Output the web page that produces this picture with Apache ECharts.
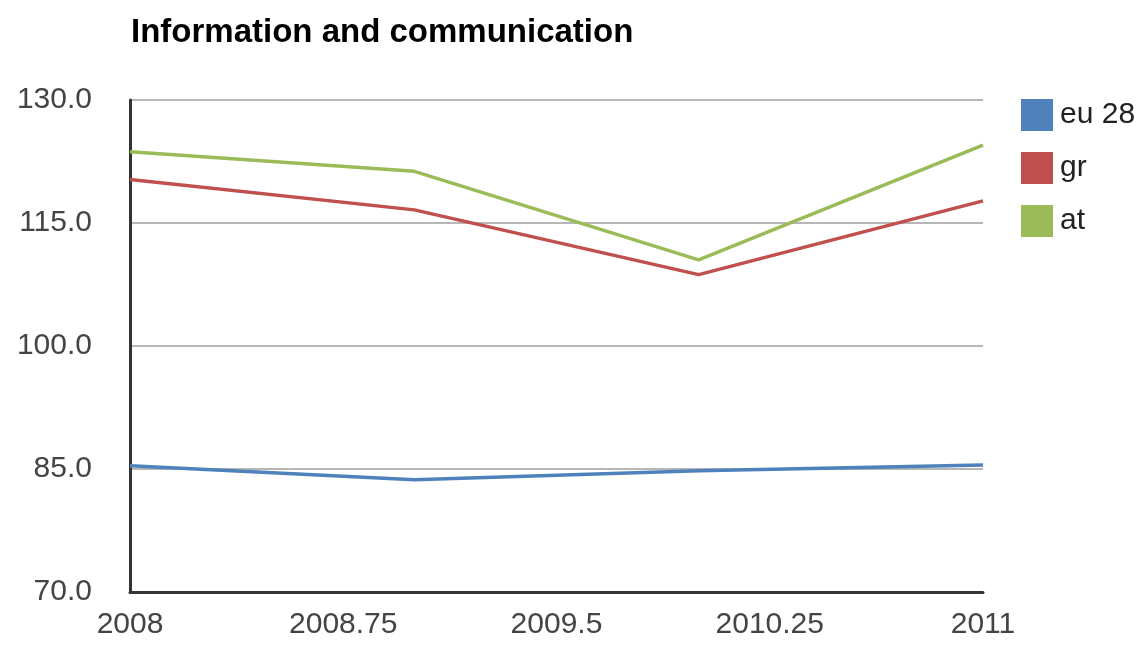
<!DOCTYPE html>
<html>
<head>
<meta charset="utf-8">
<script src="https://cdn.jsdelivr.net/npm/echarts@6/dist/echarts.min.js"></script>
<style>html,body{margin:0;padding:0;background:#fff;}#c{width:1145px;height:647px;}</style>
</head>
<body>
<div id="c"></div>
<script>
const titleText = 'Information and communication';
const years = [2008, 2009, 2010, 2011];
const baseYear = 2008;
const xTickLabels = ['2008', '2008.75', '2009.5', '2010.25', '2011'];
const yTickLabels = ['70.0', '85.0', '100.0', '115.0', '130.0'];
const seriesNames = ['eu 28', 'gr', 'at'];
const eu28 = [85.4, 83.7, 84.8, 85.5];
const gr = [120.3, 116.6, 108.7, 117.7];
const at = [123.7, 121.3, 110.5, 124.5];
const colors = ['#4F81BD', '#C0504D', '#9BBB59'];

const seriesValues = [eu28, gr, at];
const chart = echarts.init(document.getElementById('c'), null, {renderer: 'canvas'});
const font = 'Liberation Sans, Arial, sans-serif';
chart.setOption({
  animation: false,
  color: colors,
  title: {
    text: titleText, left: 126, top: 11,
    textStyle: {fontFamily: font, fontSize: 33, fontWeight: 'bold', color: '#000'}
  },
  legend: {
    data: seriesNames, orient: 'vertical', left: 1016, top: 94,
    icon: 'rect', itemWidth: 32, itemHeight: 32, itemGap: 21,
    textStyle: {fontFamily: font, fontSize: 30, color: '#222', padding: [0,0,0,2]}
  },
  grid: {left: 130, right: 162, top: 100, bottom: 55, containLabel: false},
  xAxis: {
    type: 'value', min: 0, max: years[years.length-1] - baseYear, interval: 0.75,
    axisLine: {show: true, lineStyle: {color: '#333', width: 3}},
    axisTick: {show: false},
    splitLine: {show: false},
    axisLabel: {
      margin: 18, fontFamily: font, fontSize: 30, color: '#444',
      formatter: v => xTickLabels[Math.round(v / 0.75)] || ''
    }
  },
  yAxis: {
    type: 'value', min: 70, max: 130, interval: 15,
    axisLine: {show: true, lineStyle: {color: '#333', width: 3}},
    axisTick: {show: false},
    splitLine: {show: true, lineStyle: {color: '#b7b7b7', width: 2}},
    axisLabel: {
      margin: 38, fontFamily: font, fontSize: 30, color: '#444',
      formatter: v => yTickLabels[Math.round((v - 70) / 15)] || ''
    }
  },
  series: seriesNames.map((n, i) => ({
    name: n, type: 'line', showSymbol: false, symbol: 'none',
    lineStyle: {width: 3.5, color: colors[i]},
    itemStyle: {color: colors[i]},
    data: years.map((y, j) => [y - baseYear, seriesValues[i][j]])
  }))
});
</script>
</body>
</html>
